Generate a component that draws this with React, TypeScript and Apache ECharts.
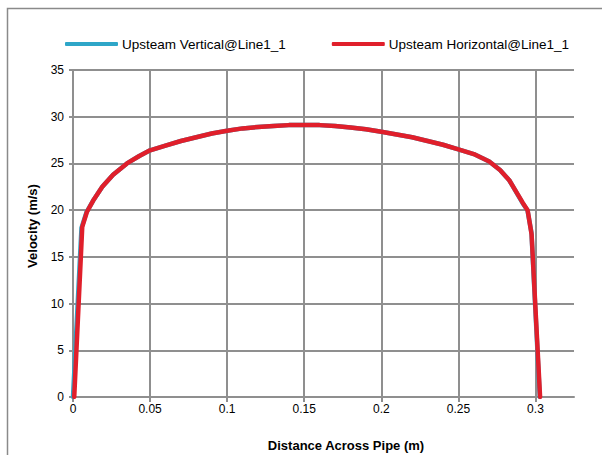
import React, { useEffect, useRef } from "react";
import * as echarts from "echarts";

const seriesNames = ["Upsteam Vertical@Line1_1", "Upsteam Horizontal@Line1_1"];
const seriesColors = ["#2ea6c8", "#e01f2b"];

const verticalX = [0, 0.0055, 0.0088, 0.013, 0.019, 0.026, 0.035, 0.043, 0.05, 0.06, 0.07, 0.08, 0.09, 0.1, 0.11, 0.12, 0.13, 0.14, 0.15, 0.16, 0.17, 0.18, 0.19, 0.2, 0.21, 0.22, 0.23, 0.24, 0.25, 0.26, 0.27, 0.277, 0.283, 0.2915, 0.2948, 0.2974, 0.3028];
const verticalY = [0, 18.1, 19.8, 21.0, 22.5, 23.8, 25.0, 25.8, 26.4, 26.9, 27.4, 27.8, 28.2, 28.5, 28.75, 28.9, 29.0, 29.1, 29.1, 29.1, 29.0, 28.85, 28.65, 28.4, 28.1, 27.8, 27.4, 27.0, 26.5, 26.0, 25.2, 24.3, 23.2, 20.8, 20.0, 17.6, 0];

const horizontalX = [0.0008, 0.006, 0.009, 0.013, 0.019, 0.026, 0.035, 0.043, 0.05, 0.06, 0.07, 0.08, 0.09, 0.1, 0.11, 0.12, 0.13, 0.14, 0.15, 0.16, 0.17, 0.18, 0.19, 0.2, 0.21, 0.22, 0.23, 0.24, 0.25, 0.26, 0.27, 0.277, 0.283, 0.2917, 0.2949, 0.2975, 0.303];
const horizontalY = [0, 18.2, 19.8, 21.0, 22.5, 23.8, 25.0, 25.8, 26.4, 26.9, 27.4, 27.8, 28.2, 28.5, 28.75, 28.9, 29.0, 29.1, 29.1, 29.1, 29.0, 28.85, 28.65, 28.4, 28.1, 27.8, 27.4, 27.0, 26.5, 26.0, 25.2, 24.3, 23.2, 20.8, 20.0, 17.4, 0];

const xTitle = "Distance Across Pipe (m)";
const yTitle = "Velocity (m/s)";

const gridColor = "#8f8f8f";
const font = "Liberation Sans, Arial, sans-serif";

export default function App() {
  const ref = useRef<HTMLDivElement>(null);
  useEffect(() => {
    if (!ref.current) return;
    const chart = echarts.init(ref.current, undefined, { renderer: "svg" });
    const toPairs = (xs: number[], ys: number[]) => xs.map((x, i) => [x, ys[i]]);
    chart.setOption({
      animation: false,
      backgroundColor: "#ffffff",
      textStyle: { fontFamily: font },
      grid: { left: 73, right: 28, top: 70, bottom: 58, containLabel: false },
      legend: {
        left: 60,
        top: 32,
        itemWidth: 53,
        itemHeight: 4,
        itemGap: 46,
        icon: "roundRect",
        textStyle: { fontFamily: font, fontSize: 13.5, color: "#000", padding: [0, 0, 0, -1] },
        data: seriesNames,
      },
      xAxis: {
        type: "value",
        min: 0,
        max: 0.325,
        interval: 0.05,
        axisLine: { show: true, onZero: false, lineStyle: { color: gridColor, width: 2 } },
        axisTick: { show: true, length: 5, lineStyle: { color: gridColor, width: 2 } },
        splitLine: { show: true, showMaxLine: false, lineStyle: { color: gridColor, width: 2 } },
        axisLabel: {
          showMaxLabel: false,
          color: "#000",
          fontSize: 12,
          fontFamily: font,
          margin: 6,
          formatter: (v: number) => String(Math.round(v * 100) / 100),
        },
      },
      yAxis: {
        type: "value",
        min: 0,
        max: 35,
        interval: 5,
        axisLine: { show: true, lineStyle: { color: gridColor, width: 2 } },
        axisTick: { show: true, length: 4, lineStyle: { color: gridColor, width: 2 } },
        splitLine: { show: true, lineStyle: { color: gridColor, width: 2 } },
        axisLabel: { color: "#000", fontSize: 12, fontFamily: font, margin: 9 },
      },
      graphic: [
        {
          type: "rect",
          shape: { x: 7.5, y: 8.5, width: 700, height: 600 },
          style: { fill: "none", stroke: "#8a8a8a", lineWidth: 1.5 },
          silent: true,
          z: -1,
        },
        {
          type: "text",
          x: 346,
          y: 445,
          style: {
            text: xTitle,
            fontFamily: font,
            fontSize: 13,
            fontWeight: "bold",
            fill: "#000",
            textAlign: "center",
            textVerticalAlign: "middle",
          },
        },
        {
          type: "text",
          x: 32,
          y: 226,
          rotation: Math.PI / 2,
          style: {
            text: yTitle,
            fontFamily: font,
            fontSize: 13,
            fontWeight: "bold",
            fill: "#000",
            textAlign: "center",
            textVerticalAlign: "middle",
          },
        },
      ],
      series: [
        {
          name: seriesNames[0],
          type: "line",
          data: toPairs(verticalX, verticalY),
          showSymbol: false,
          color: seriesColors[0],
          lineStyle: { width: 4.5, color: seriesColors[0], join: "round", cap: "round" },
        },
        {
          name: seriesNames[1],
          type: "line",
          data: toPairs(horizontalX, horizontalY),
          showSymbol: false,
          color: seriesColors[1],
          lineStyle: { width: 4.5, color: seriesColors[1], join: "round", cap: "round" },
        },
      ],
    });
    return () => chart.dispose();
  }, []);
  return (
    <div
      ref={ref}
      style={{ position: "fixed", left: 0, top: 0, width: 602, height: 455 }}
    />
  );
}
